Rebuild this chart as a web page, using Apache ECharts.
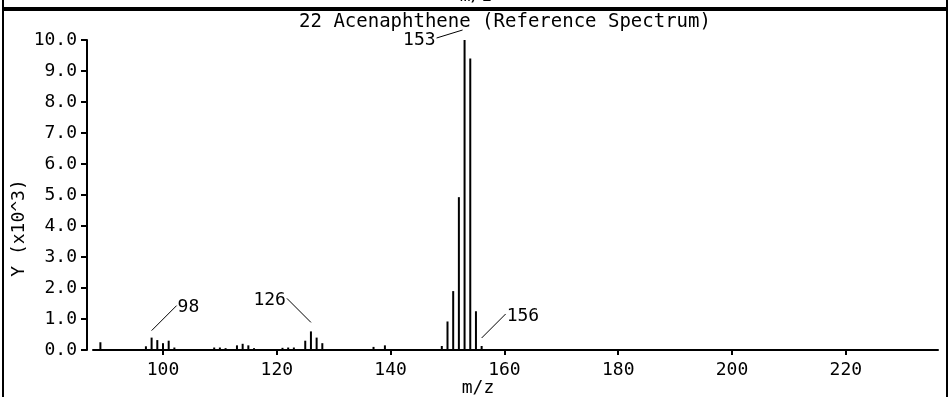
<!DOCTYPE html>
<html>
<head>
<meta charset="utf-8">
<script src="https://cdn.jsdelivr.net/npm/echarts@6/dist/echarts.min.js"></script>
<style>html,body{margin:0;padding:0;background:#fff;}#c{width:950px;height:397px;}</style>
</head>
<body>
<div id="c"></div>
<script>
var title = '22 Acenaphthene (Reference Spectrum)';
var xName = 'm/z';
var yName = 'Y (x10^3)';
var mz = [89, 97, 98, 99, 100, 101, 102, 109, 110, 111, 113, 114, 115, 116, 121, 122, 123, 125, 126, 127, 128, 137, 139, 149, 150, 151, 152, 153, 154, 155, 156];
var intensity = [0.25, 0.12, 0.4, 0.32, 0.22, 0.3, 0.08, 0.08, 0.08, 0.06, 0.15, 0.2, 0.15, 0.06, 0.07, 0.08, 0.08, 0.3, 0.6, 0.4, 0.22, 0.1, 0.15, 0.13, 0.92, 1.9, 4.93, 10.0, 9.4, 1.25, 0.13];
var xTicks = [100, 120, 140, 160, 180, 200, 220];
var annotated = [98, 126, 153, 156];

var FONT = 'DejaVu Sans Mono';
var FS = 18;
var chart = echarts.init(document.getElementById('c'));
var barData = mz.map(function (m, i) { return [m, intensity[i]]; });

var frame = [
  { type: 'rect', shape: { x: 3, y: -10, width: 944, height: 18 }, style: { fill: 'none', stroke: '#000', lineWidth: 2 } },
  { type: 'rect', shape: { x: 3, y: 10, width: 944, height: 392 }, style: { fill: 'none', stroke: '#000', lineWidth: 2 } },
  { type: 'text', x: 476, y: -4, style: { text: xName, fontFamily: FONT, fontSize: FS, fill: '#000', textAlign: 'center', textVerticalAlign: 'middle' } },
  { type: 'text', x: 478, y: 388, style: { text: xName, fontFamily: FONT, fontSize: FS, fill: '#000', textAlign: 'center', textVerticalAlign: 'middle' } },
  { type: 'text', x: 19, y: 228, rotation: Math.PI / 2, style: { text: yName, fontFamily: FONT, fontSize: FS, fill: '#000', textAlign: 'center', textVerticalAlign: 'middle' } }
];

chart.setOption({
  animation: false,
  backgroundColor: '#fff',
  title: {
    text: title, left: 500, top: 8, textAlign: 'center',
    textStyle: { fontFamily: FONT, fontSize: 19, fontWeight: 'normal', color: '#000' }
  },
  grid: { left: 93, right: 12, top: 40, bottom: 47 },
  xAxis: {
    type: 'value', min: 87.7, max: 236.2, offset: 5,
    axisLine: { lineStyle: { color: '#000', width: 2 } },
    axisTick: { show: true, length: 5, customValues: xTicks, lineStyle: { color: '#000', width: 2 } },
    axisLabel: { customValues: xTicks, fontFamily: FONT, fontSize: FS, color: '#000', margin: 6 },
    splitLine: { show: false }
  },
  yAxis: {
    type: 'value', min: 0, max: 10, interval: 1, offset: 6,
    axisLine: { show: true, lineStyle: { color: '#000', width: 2 } },
    axisTick: { show: true, length: 6, lineStyle: { color: '#000', width: 2 } },
    axisLabel: { fontFamily: FONT, fontSize: FS, color: '#000', margin: 10,
      formatter: function (v) { return v.toFixed(1); } },
    splitLine: { show: false }
  },
  series: [{
    type: 'bar', data: barData, barWidth: 2, barGap: '-100%',
    itemStyle: { color: '#000' }, silent: true
  }],
  graphic: frame
});

// peak annotations: leader line + label, anchored at bar tops through the chart's scales
var styleFor = {
  98:  { sx: 0, sy: -7, ex: 25, ey: -32, align: 'left' },
  126: { sx: 0, sy: -9, ex: -24, ey: -33, align: 'right' },
  153: { sx: -2, sy: -10, ex: -28, ey: -2, align: 'right' },
  156: { sx: 0, sy: -8, ex: 24, ey: -32, align: 'left' }
};
var g = [];
annotated.forEach(function (m) {
  var idx = mz.indexOf(m);
  var p = chart.convertToPixel({ gridIndex: 0 }, [m, intensity[idx]]);
  var s = styleFor[m];
  var x1 = p[0] + s.sx, y1 = p[1] + s.sy, x2 = p[0] + s.ex, y2 = p[1] + s.ey;
  g.push({ type: 'line', shape: { x1: x1, y1: y1, x2: x2, y2: y2 }, style: { stroke: '#000', lineWidth: 1 } });
  g.push({ type: 'text', x: s.align === 'left' ? x2 + 1 : x2 - 1, y: y2 + 2,
    style: { text: String(m), fontFamily: FONT, fontSize: FS, fill: '#000',
      textAlign: s.align, textVerticalAlign: 'middle' } });
});
chart.setOption({ graphic: frame.concat(g) }, { replaceMerge: ['graphic'] });
</script>
</body>
</html>
